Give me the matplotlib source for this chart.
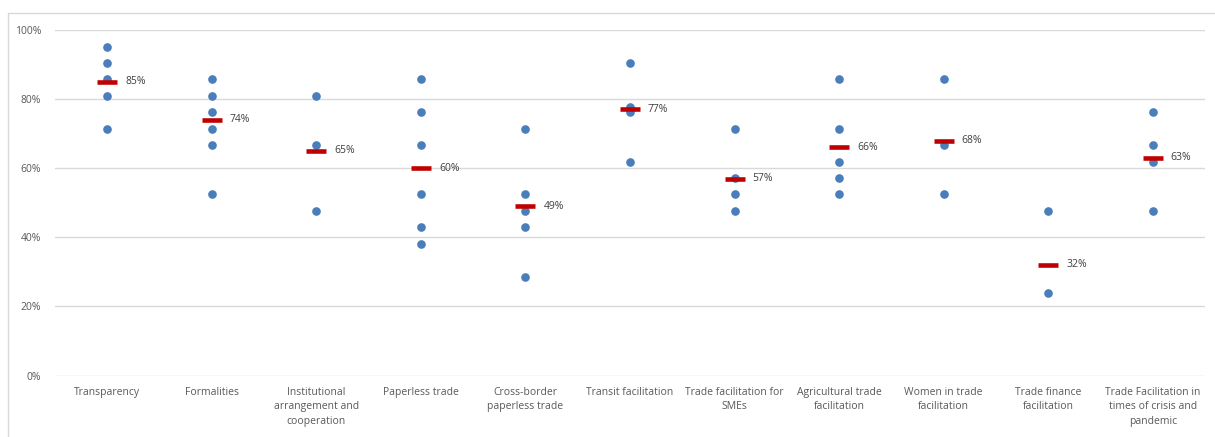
import matplotlib.pyplot as plt
from matplotlib.patches import Rectangle
from matplotlib.ticker import PercentFormatter

categories = [
    'Transparency', 'Formalities', 'Institutional\narrangement and\ncooperation',
    'Paperless trade', 'Cross-border\npaperless trade', 'Transit facilitation',
    'Trade facilitation for\nSMEs', 'Agricultural trade\nfacilitation',
    'Women in trade\nfacilitation', 'Trade finance\nfacilitation',
    'Trade Facilitation in\ntimes of crisis and\npandemic',
]

# individual scores per group (%)
scores = [
    [95.2, 90.5, 85.7, 81.0, 71.4],
    [85.7, 81.0, 76.2, 71.4, 66.7, 52.4],
    [81.0, 66.7, 47.6],
    [85.7, 76.2, 66.7, 52.4, 42.9, 38.1],
    [71.4, 52.4, 47.6, 42.9, 28.6],
    [90.5, 77.8, 76.2, 61.9],
    [71.4, 57.1, 52.4, 47.6],
    [85.7, 71.4, 61.9, 57.1, 52.4],
    [85.7, 66.7, 52.4],
    [47.6, 23.8],
    [76.2, 66.7, 61.9, 47.6],
]

# group averages (%)
averages = [85, 74, 65, 60, 49, 77, 57, 66, 68, 32, 63]

plt.rcParams['font.family'] = ['Open Sans', 'DejaVu Sans']

fig = plt.figure(figsize=(12.15, 4.37), dpi=100)
fig.patches.append(Rectangle((8 / 1215, -0.1), 1.2, 1 - 13 / 437 + 0.1,
                             transform=fig.transFigure, fill=False,
                             edgecolor='#d9d9d9', linewidth=1))
ax = fig.add_axes([55 / 1215, 1 - 375.5 / 437, 1150 / 1215, 345.5 / 437])

for i, vals in enumerate(scores):
    ax.plot([i] * len(vals), vals, 'o', color='#4a7ebb', markersize=5.2,
            linestyle='none', zorder=3)

x = range(len(categories))
ax.plot(x, averages, marker='_', color='#c00000', markersize=15,
        markeredgewidth=3.3, linestyle='none', zorder=4)
for i, v in enumerate(averages):
    ax.annotate(f'{v}%', (i, v), xytext=(13, 0), textcoords='offset points',
                va='center', ha='left', fontsize=7.5, color='#404040')

ax.set_xlim(-0.5, len(categories) - 0.5)
ax.set_ylim(0, 100)
ax.set_yticks(range(0, 101, 20))
ax.yaxis.set_major_formatter(PercentFormatter(decimals=0))
ax.set_xticks(list(x))
ax.set_xticklabels(categories, fontsize=7.5, color='#595959', linespacing=1.45)
ax.tick_params(axis='y', labelsize=7.5, labelcolor='#595959', length=0, pad=10)
ax.tick_params(axis='x', length=0, pad=8)
ax.grid(axis='y', color='#d9d9d9', linewidth=1)
ax.set_axisbelow(True)
for s in ax.spines.values():
    s.set_visible(False)

fig.savefig('out.png', dpi=100)
